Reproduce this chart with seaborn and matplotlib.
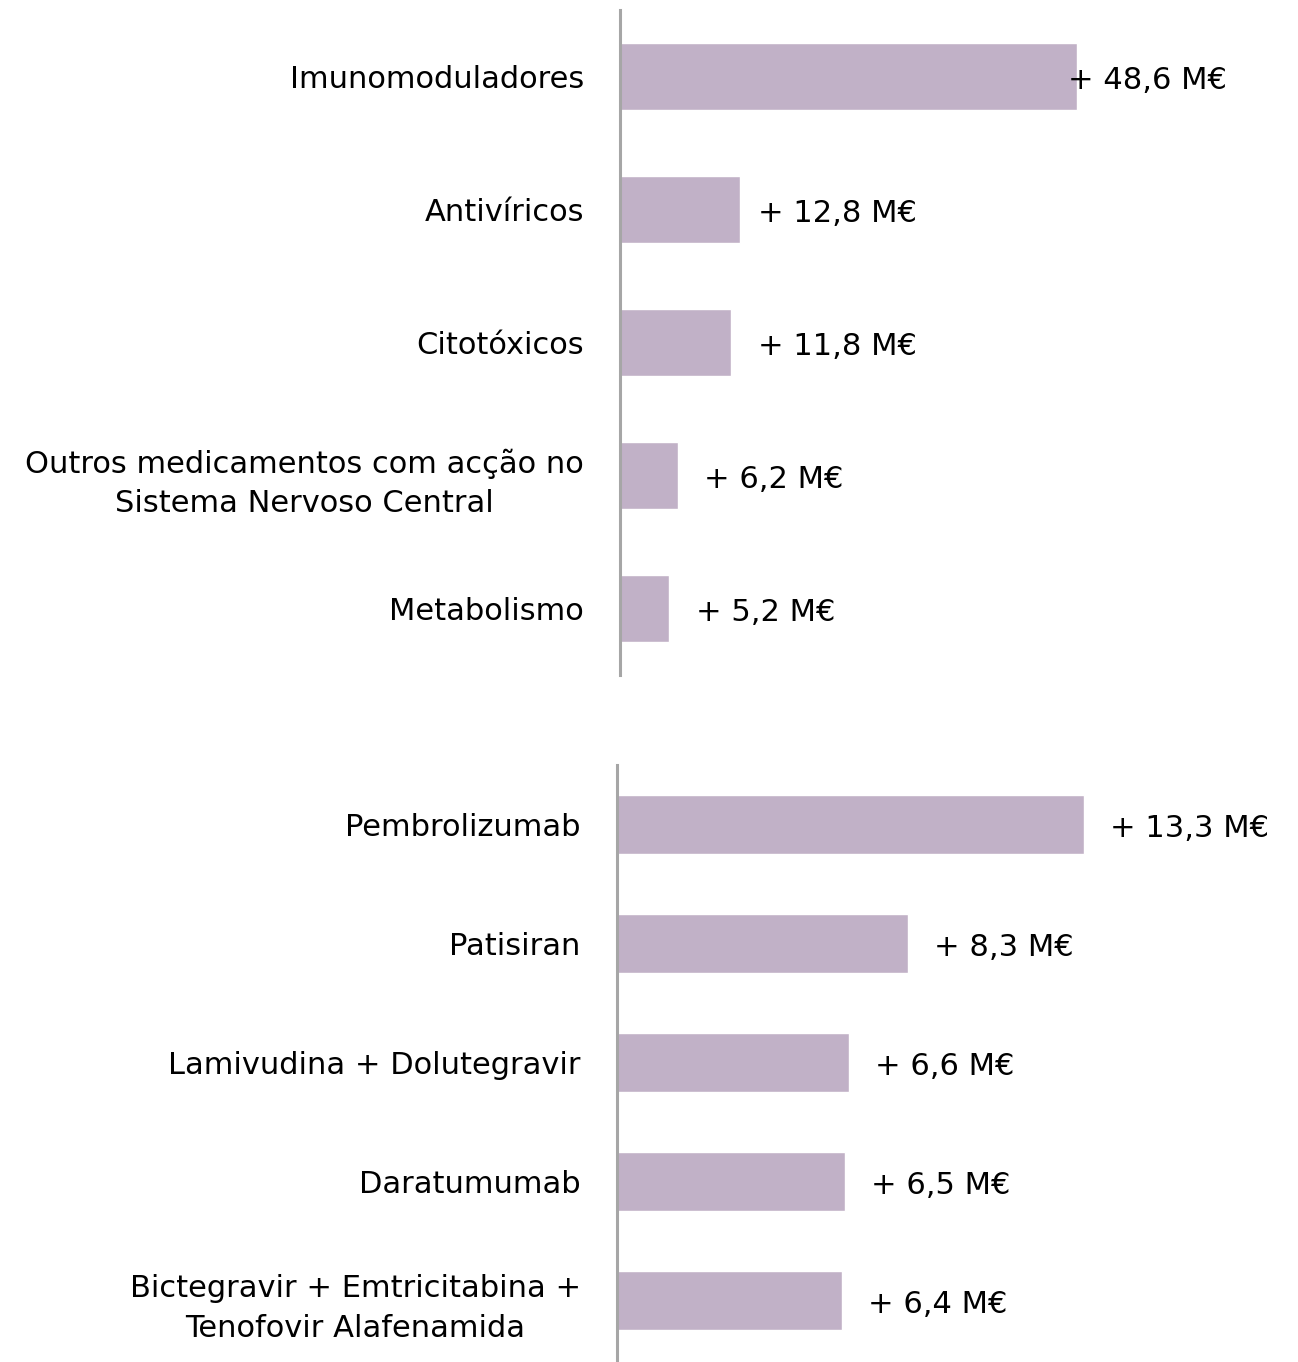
import pandas as pd
import matplotlib
matplotlib.use("Agg")
import matplotlib.pyplot as plt
import seaborn as sns

# --- data ---
groups_top = [
    "Imunomoduladores",
    "Antivíricos",
    "Citotóxicos",
    "Outros medicamentos com acção no\nSistema Nervoso Central",
    "Metabolismo",
]
values_top = [48.6, 12.8, 11.8, 6.2, 5.2]
labels_top = ["+ 48,6 M€", "+ 12,8 M€", "+ 11,8 M€", "+ 6,2 M€", "+ 5,2 M€"]

drugs_bottom = [
    "Pembrolizumab",
    "Patisiran",
    "Lamivudina + Dolutegravir",
    "Daratumumab",
    "Bictegravir + Emtricitabina +\nTenofovir Alafenamida",
]
values_bottom = [13.3, 8.3, 6.6, 6.5, 6.4]
labels_bottom = ["+ 13,3 M€", "+ 8,3 M€", "+ 6,6 M€", "+ 6,5 M€", "+ 6,4 M€"]

# --- style ---
BAR_COLOR = "#C1B1C7"
SPINE_COLOR = "#A6A6A6"
FONT_SIZE = 22
pad_top = [-9, 18, 27, 26, 27]   # label offset from bar end, pixels
pad_bottom = [26, 26, 26, 26, 26]

sns.set_style("white")
plt.rcParams["font.family"] = ["DejaVu Sans"]
plt.rcParams["ytick.color"] = "black"
plt.rcParams["ytick.labelcolor"] = "black"

fig = plt.figure(figsize=(12.98, 13.62), dpi=100)
ax1 = fig.add_axes([0.4777, 0.5044, 0.5223, 0.4883])
ax2 = fig.add_axes([0.4753, 0.0015, 0.5247, 0.4368])


def draw_panel(ax, cats, vals, labels, pads, xmax):
    df = pd.DataFrame({"cat": cats, "val": vals})
    sns.barplot(data=df, y="cat", x="val", orient="h", color=BAR_COLOR,
                width=0.5, saturation=1, ax=ax)
    for i, (v, lab, p) in enumerate(zip(vals, labels, pads)):
        # nudge a few pixels down to sit like the reference labels
        ax.annotate(lab, xy=(v, i), xytext=(p, -4), textcoords="offset pixels",
                    ha="left", va="center", fontsize=FONT_SIZE, color="black")
    ax.set_xlim(0, xmax)
    ax.set_ylim(4.5, -0.5)
    ax.set_xlabel("")
    ax.set_ylabel("")
    ax.set_xticks([])
    for s in ["top", "right", "bottom"]:
        ax.spines[s].set_visible(False)
    ax.spines["left"].set_color(SPINE_COLOR)
    ax.spines["left"].set_linewidth(2.2)
    ax.tick_params(axis="y", length=0, pad=26, labelsize=FONT_SIZE,
                   labelcolor="black")
    for t in ax.get_yticklabels():
        t.set_multialignment("center")
        t.set_linespacing(1.45)
    ax.patch.set_alpha(0)


draw_panel(ax1, groups_top, values_top, labels_top, pad_top, 72.1)
draw_panel(ax2, drugs_bottom, values_bottom, labels_bottom, pad_bottom, 19.4)

fig.savefig("out.png", dpi=100)
